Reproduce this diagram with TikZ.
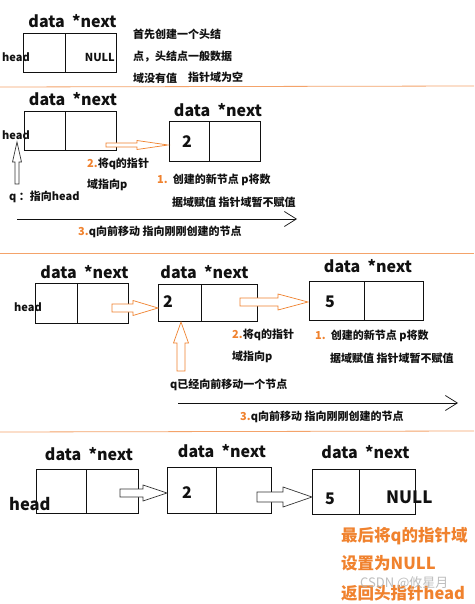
\documentclass[tikz,border=0pt]{standalone}
\usepackage{fontspec}
\setmainfont{Noto Sans CJK SC}
\usetikzlibrary{arrows.meta,fit}
\definecolor{org}{HTML}{F0822E}
\definecolor{sep}{HTML}{F4A36A}
\definecolor{ink}{HTML}{111111}
\newcommand\harrow[7][]{% style, x1, xh, x2, y, s, h
  \draw[#1] (#2,{#5-#6}) -- (#3,{#5-#6}) -- (#3,{#5-#7}) -- (#4,#5) -- (#3,{#5+#7}) -- (#3,{#5+#6}) -- (#2,{#5+#6}) -- cycle;}
\newcommand\varrow[7][]{% style, x, ybottom, yh, ytop, s, h
  \draw[#1] ({#2-#6},#3) -- ({#2-#6},#4) -- ({#2-#7},#4) -- (#2,#5) -- ({#2+#7},#4) -- ({#2+#6},#4) -- ({#2+#6},#3) -- cycle;}
\newcommand\twocell[7]{% name, x1, xm, x2, y1, y2, unused
  \node[cellbox, fit={(#2,#5) (#3,#6)}] (#1d) {};
  \node[cellbox, fit={(#3,#5) (#4,#6)}] (#1n) {};}
\begin{document}
\begin{tikzpicture}[x=1pt,y=-1pt,
  cellbox/.style={draw=ink, line width=0.8pt, inner sep=0pt},
  hdr/.style={font=\bfseries\fontsize{16}{18}\selectfont, text=ink, inner sep=0pt},
  lbl/.style={font=\bfseries\fontsize{11}{13}\selectfont, text=ink, inner sep=0pt, anchor=west},
  big/.style={font=\bfseries\fontsize{16}{18}\selectfont, text=ink, inner sep=0pt, anchor=west},
  note/.style={font=\bfseries\fontsize{16.5}{19}\selectfont, text=org, inner sep=0pt, anchor=west},
  blk/.style={draw=org, line width=0.7pt, fill=white},
  blkg/.style={draw=ink!85, line width=0.7pt, fill=white},
  longarr/.style={draw=ink, line width=0.7pt, -{Straight Barb[length=12pt,width=15pt,line width=0.7pt]}},
  sepline/.style={draw=sep, line width=0.8pt}]
\useasboundingbox (0,0) rectangle (474,604);
\fill[white] (0,0) rectangle (474,604);

% ---------- panel 1 ----------
\node[hdr] (h1) at (72.5,21) {data\ \ *next};
\twocell{a}{23}{65}{116}{33}{72}{}
\node[lbl] (a-head) at (2,57) {head};
\node[lbl, anchor=east] (a-null) at (115,57) {NULL};
\node[lbl] (t1a) at (133,34) {首先创建一个头结};
\node[lbl] (t1b) at (133,57) {点，头结点一般数据};
\node[lbl] (t1c) at (133,78) {域没有值};
\node[lbl] (t1d) at (188,77) {指针域为空};
\coordinate (s1l) at (0,87); \coordinate (s1r) at (474,86);
\draw[sepline] (s1l) -- (s1r);

% ---------- panel 2 ----------
\node[hdr] (h2a) at (73,99) {data\ \ *next};
\node[hdr] (h2b) at (218,110) {data\ \ *next};
\twocell{b}{24}{65}{116}{111}{150}{}
\twocell{c}{169}{209}{260}{121}{161}{}
\node[lbl] (b-head) at (2,135) {head};
\node[big] (c-val) at (182,142) {2};
\harrow[blk]{106}{137}{168}{145}{2}{4.5}
\varrow[blkg]{17}{184}{162}{142}{2}{4.5}
\node[lbl] (q2) at (9,197) {q ：指向head};
\node[lbl] (t2a) at (87,164) {\textcolor{org}{2.}将q的指针};
\node[lbl] (t2b) at (87,185) {域指向p};
\node[lbl] (t2c) at (157,180) {\textcolor{org}{1.}\ \ 创建的新节点 p将数};
\node[lbl] (t2d) at (172,202) {据域赋值 指针域暂不赋值};
\coordinate (l2s) at (17,219); \coordinate (l2e) at (297,219);
\draw[longarr] (l2s) -- (l2e);
\node[lbl] (t2e) at (78,232) {\textcolor{org}{3.}q向前移动 指向刚刚创建的节点};
\coordinate (s2l) at (0,253); \coordinate (s2r) at (474,253);
\draw[sepline] (s2l) -- (s2r);

% ---------- panel 3 ----------
\node[hdr] (h3a) at (84.5,272) {data\ \ *next};
\node[hdr] (h3b) at (204.5,272) {data\ \ *next};
\node[hdr] (h3c) at (368,266) {data\ \ *next};
\twocell{d}{35}{77}{128}{283}{323}{}
\twocell{e}{158}{201}{257}{284}{321}{}
\twocell{f}{309}{364}{423}{281}{320}{}
\node[lbl] (d-head) at (14,307) {head};
\node[big] (e-val) at (163,302) {2};
\node[big] (f-val) at (325,302) {5};
\harrow[blk]{112}{133}{158}{308}{4}{7.5}
\harrow[blk]{240}{278}{308}{302}{4}{8}
\varrow[blk]{181}{371}{343}{322}{4}{7.5}
\node[lbl] (t3a) at (232,335) {\textcolor{org}{2.}将q的指针};
\node[lbl] (t3b) at (232,357) {域指向p};
\node[lbl] (t3c) at (315,336) {\textcolor{org}{1.}\ \ 创建的新节点 p将数};
\node[lbl] (t3d) at (330,358) {据域赋值 指针域暂不赋值};
\node[lbl] (t3e) at (170,385) {q已经向前移动一个节点};
\coordinate (l3s) at (178,403); \coordinate (l3e) at (458,403);
\draw[longarr] (l3s) -- (l3e);
\node[lbl] (t3f) at (240,417) {\textcolor{org}{3.}q向前移动 指向刚刚创建的节点};
\coordinate (s3l) at (0,432); \coordinate (s3r) at (474,431);
\draw[sepline] (s3l) -- (s3r);

% ---------- panel 4 ----------
\node[hdr] (h4a) at (89,454) {data\ \ *next};
\node[hdr] (h4b) at (222,451) {data\ \ *next};
\node[hdr] (h4c) at (365.5,452) {data\ \ *next};
\twocell{g}{36}{86}{138}{469}{513}{}
\twocell{h}{167}{216}{271}{467}{513}{}
\twocell{k}{312}{359}{415}{469}{514}{}
\node[big, font=\bfseries\fontsize{16.5}{19}\selectfont] (g-head) at (9,504) {head};
\node[big] (h-val) at (182,493) {2};
\node[big] (k-val) at (325,499) {5};
\node[big, font=\bfseries\fontsize{17}{19}\selectfont] (k-null) at (386,497) {NULL};
\harrow[blkg]{120}{143}{167}{493}{4}{8}
\harrow[blkg]{257}{283}{312}{497}{5}{10}
\node[note] (n1) at (341,536) {最后将q的指针域};
\node[note] (n2) at (341,563) {设置为NULL};
\node[note] (n3) at (341,593) {返回头指针head};
\node[font=\fontsize{13}{15}\selectfont, text=gray!60, opacity=0.85, anchor=west, inner sep=0pt] (wm) at (360,583) {CSDN @攸星月};
\end{tikzpicture}
\end{document}
